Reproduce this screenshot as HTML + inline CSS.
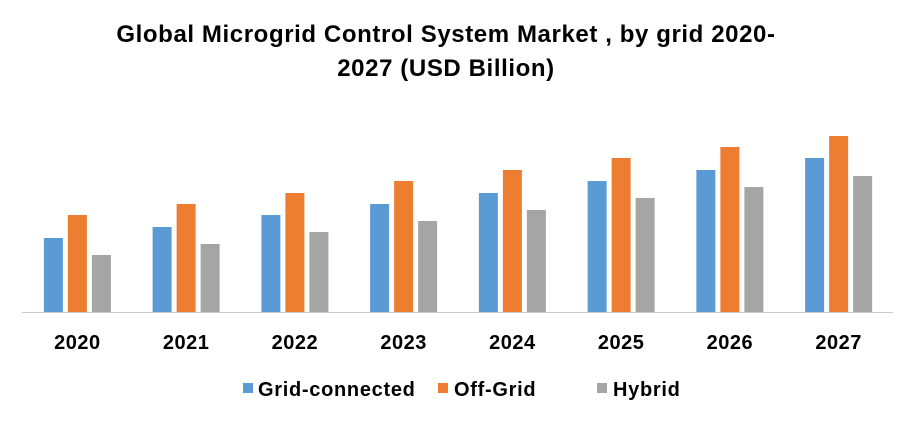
<!DOCTYPE html>
<html><head><meta charset="utf-8"><style>
body{margin:0;background:#fff;width:916px;height:424px;overflow:hidden;font-family:"Liberation Sans",sans-serif}
</style></head><body>
<svg width="916" height="424" xmlns="http://www.w3.org/2000/svg">
<text x="446" y="42" text-anchor="middle" font-size="24" font-weight="bold" letter-spacing="0.6" fill="#000">Global Microgrid Control System Market , by grid 2020-</text>
<text x="446" y="76" text-anchor="middle" font-size="24" font-weight="bold" letter-spacing="0.6" fill="#000">2027 (USD Billion)</text>
<line x1="22" y1="312.5" x2="893" y2="312.5" stroke="#c8c8c8" stroke-width="1"/>
<g id="bars"></g>
<g id="labels"></g>
<g>
<rect x="243" y="383" width="10" height="10" fill="#5B9BD5"/>
<text x="258" y="396" font-size="20" font-weight="bold" letter-spacing="0.7">Grid-connected</text>
<rect x="438" y="383" width="10" height="10" fill="#ED7D31"/>
<text x="454" y="396" font-size="20" font-weight="bold" letter-spacing="0.7">Off-Grid</text>
<rect x="597" y="383" width="10" height="10" fill="#A5A5A5"/>
<text x="613" y="396" font-size="20" font-weight="bold" letter-spacing="0.7">Hybrid</text>
</g>
</svg>
<script>
const categories=["2020","2021","2022","2023","2024","2025","2026","2027"];
const gridConnected=[3.70,4.25,4.85,5.40,5.95,6.55,7.10,7.70];
const offGrid=[4.85,5.40,5.95,6.55,7.10,7.70,8.25,8.80];
const hybrid=[2.85,3.40,4.00,4.55,5.10,5.70,6.25,6.80];
const seriesNames=["grid-connected","off-grid","hybrid"];
const NS="http://www.w3.org/2000/svg";
const x0=23,x1=893,base=312,pxPer=20;
const band=(x1-x0)/categories.length;
function xCenter(i){return x0+band*(i+0.5);}
function yScale(v){return base-v*pxPer;}
const colors=["#5B9BD5","#ED7D31","#A5A5A5"];
const all=[gridConnected,offGrid,hybrid];
const bw=19,step=24;
const gb=document.getElementById('bars'),gl=document.getElementById('labels');
categories.forEach((c,i)=>{
  all.forEach((s,j)=>{
    const r=document.createElementNS(NS,'rect');
    const y=yScale(s[i]);
    r.setAttribute('x',xCenter(i)+(j-1)*step-bw/2);
    r.setAttribute('y',y);
    r.setAttribute('width',bw);
    r.setAttribute('height',base-y);
    r.setAttribute('fill',colors[j]);
    
    
    gb.appendChild(r);
  });
  const t=document.createElementNS(NS,'text');
  t.setAttribute('x',xCenter(i));
  t.setAttribute('y',349);
  t.setAttribute('text-anchor','middle');
  t.setAttribute('font-size','20');
  t.setAttribute('font-weight','bold');
  t.setAttribute('letter-spacing','0.5');
  t.textContent=c;
  
  
  gl.appendChild(t);
});
</script>
</body></html>
